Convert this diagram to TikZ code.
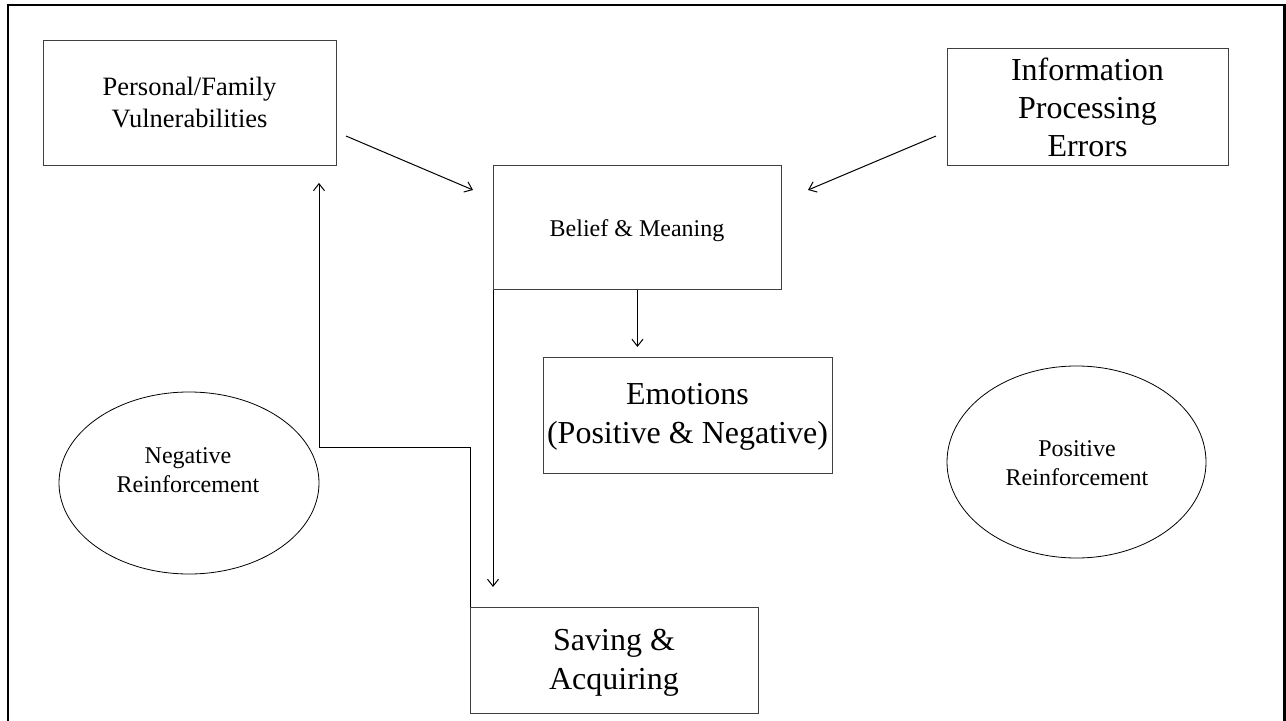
\documentclass[tikz,border=0pt]{standalone}
\usepackage{fontspec}
\setmainfont{Liberation Serif}
\usetikzlibrary{arrows.meta,shapes.geometric}
\begin{document}
\begin{tikzpicture}[x=1bp,y=-1bp,
  box/.style={draw=black!75, line width=0.9bp, rectangle, inner sep=0pt, anchor=north west},
  oval/.style={draw=black, line width=0.8bp, ellipse, inner sep=0pt},
  lbl/.style={align=center, inner sep=0pt, anchor=base},
  small/.style={font=\fontsize{24bp}{28.5bp}\selectfont},
  mid/.style={font=\fontsize{26.5bp}{32bp}\selectfont},
  big/.style={font=\fontsize{32bp}{38.4bp}\selectfont},
  arr/.style={draw=black, line width=1bp, -{Straight Barb[length=7bp,width=11bp]}},
]
\useasboundingbox (0,0) rectangle (1286,721);
\fill[white] (0,0) rectangle (1286,721);
% outer frame, open at the bottom
\draw[line width=2.2bp] (8,721) -- (8,5) -- (1284.5,5) -- (1284.5,721);

% boxes
\node[box, minimum width=293bp, minimum height=125bp] (pers) at (43,40) {};
\node[box, minimum width=288bp, minimum height=124bp] (bel) at (493,165) {};
\node[box, minimum width=281bp, minimum height=117bp] (info) at (947,48) {};
\node[box, minimum width=289bp, minimum height=116bp] (emo) at (543,357) {};
\node[box, minimum width=288bp, minimum height=106bp] (sav) at (470,607) {};

% ellipses
\node[oval, minimum width=260bp, minimum height=182bp] (neg) at (189,483) {};
\node[oval, minimum width=259bp, minimum height=192bp] (pos) at (1076.5,462) {};

% labels (base anchor sits on the baseline of the last line)
\node[lbl, mid] (persT) at (189.5,128) {Personal/Family\\Vulnerabilities};
\node[lbl, small] (belT) at (637,237) {Belief \& Meaning};
\node[lbl, big] (infoT) at (1087.5,157) {Information\\Processing\\Errors};
\node[lbl, big] (emoT) at (687.5,443) {Emotions\\(Positive \& Negative)};
\node[lbl, big] (savT) at (614,689) {Saving \&\\Acquiring};
\node[lbl, small] (negT) at (188,492) {Negative\\Reinforcement};
\node[lbl, small] (posT) at (1077,485) {Positive\\Reinforcement};

% connectors
\coordinate (pa) at (346,136);
\coordinate (pb) at (473,190);
\coordinate (ia) at (936,136);
\coordinate (ib) at (808,190);
\coordinate (bend) at (319,447);
\draw[arr] (pa) -- (pb);
\draw[arr] (ia) -- (ib);
\draw[arr, shorten >=10bp] (bel.south) -- (bel.south |- emo.north);
\draw[arr, shorten >=20bp] (bel.south west) -- (bel.south west |- sav.north);
\draw[arr, shorten >=17bp] (sav.north west) |- (bend) -- (bend |- pers.south);
\end{tikzpicture}
\end{document}
